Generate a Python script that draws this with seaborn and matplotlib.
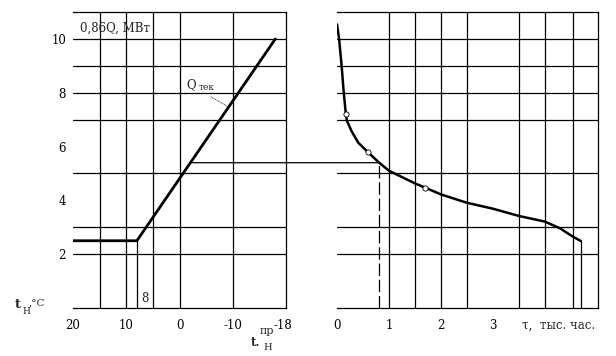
import numpy as np
import pandas as pd
import seaborn as sns
import matplotlib.pyplot as plt
import matplotlib.transforms as mtransforms
from matplotlib.patches import ConnectionPatch

sns.set_theme(style="white")
plt.rcParams['font.family'] = ['DejaVu Serif', 'Liberation Serif']

# left panel: heat load vs outdoor temperature
t_out = [20, 8, -18]
q_heat = [2.5, 2.5, 10.0]

# right panel: load duration curve (thousand hours)
tau = [0.0, 0.04, 0.09, 0.13, 0.17, 0.19, 0.28, 0.41, 0.59, 0.81, 1.0, 1.5, 1.7,
       2.0, 2.5, 3.0, 3.5, 4.0, 4.29, 4.53, 4.69]
q_tau = [10.54, 10.0, 8.97, 7.99, 7.21, 6.96, 6.57, 6.14, 5.8, 5.4, 5.1, 4.63, 4.47,
         4.22, 3.91, 3.69, 3.42, 3.21, 2.96, 2.66, 2.49]
mark_tau = [0.17, 0.59, 1.7]
mark_q = [7.21, 5.8, 4.47]

# grid positions as drawn in the source
h_grid = [2, 3, 5, 7, 8, 9, 10]
left_vgrid = [15, 10, 5, 0, -10]
right_vgrid = [1, 1.5, 2, 2.5, 3.5, 4, 4.54]
left_ticks = [20, 10, 0, -10, -18]
left_ticklabels = ["20", "10", "0", "-10", "-18"]
right_ticks = [0, 1, 2, 3]
y_ticks = [2, 4, 6, 8, 10]

# projection from left to right panel
proj_t = -2.0
proj_q = 5.4
proj_tau = 0.81
end_tau = 4.69

fig = plt.figure(figsize=(6.16, 3.56), dpi=100)
ax1 = fig.add_axes([0.1185, 0.1348, 0.3458, 0.8315])
ax2 = fig.add_axes([0.5471, 0.1348, 0.4237, 0.8315])

fs = 8.5
for ax in (ax1, ax2):
    ax.set_ylim(0, 11)
    for y in h_grid:
        ax.axhline(y, color="black", lw=0.9, zorder=1)
    for s in ax.spines.values():
        s.set_color("black")
        s.set_linewidth(0.9)
    ax.spines["left"].set_visible(False)
    ax.tick_params(length=0, labelsize=fs, colors="black", pad=8)

# left panel
ax1.set_xlim(20, -20)
for x in left_vgrid:
    ax1.axvline(x, color="black", lw=0.9, zorder=1)
ax1.plot([8, 8], [0, 2.5], color="black", lw=0.9, zorder=1)
sns.lineplot(x=t_out, y=q_heat, ax=ax1, color="black", lw=2.0, sort=False, zorder=3)
ax1.set_xticks(left_ticks)
ax1.set_xticklabels(left_ticklabels)
# the "-18" label sits a bit to the right of its tick in the source
last = ax1.get_xticklabels()[-1]
last.set_transform(last.get_transform() + mtransforms.ScaledTranslation(8 / 100, 0, fig.dpi_scale_trans))
ax1.set_yticks(y_ticks)
ax1.tick_params(axis="y", pad=5)
ax1.text(18.7, 10.4, "0,86Q, МВт", fontsize=fs, va="center", ha="left")
ax1.text(7.1, 0.35, "8", fontsize=fs, va="center", ha="left")
ax1.text(-1.3, 8.3, "Q", fontsize=fs, va="center", ha="left")
ax1.text(-3.5, 8.2, "тек", fontsize=6.5, va="center", ha="left")
ax1.plot([-5.9, -9.1], [7.85, 7.48], color="black", lw=0.6, ls=(0, (1, 1)))

# right panel
ax2.set_xlim(0, 5.02)
for x in right_vgrid:
    ax2.axvline(x, color="black", lw=0.9, zorder=1)
ax2.plot([end_tau, end_tau], [0, q_tau[-1]], color="black", lw=0.9, zorder=1)
sns.lineplot(x=tau, y=q_tau, ax=ax2, color="black", lw=1.8, sort=False, zorder=3)
ax2.scatter(mark_tau, mark_q, s=14, facecolor="white", edgecolor="black", linewidth=0.6, zorder=4)
ax2.plot([proj_tau, proj_tau], [0, proj_q], color="black", lw=0.9, ls=(0, (10, 3)), zorder=2)
ax2.set_xticks(right_ticks)
ax2.set_yticks([])

con = ConnectionPatch(xyA=(proj_t, proj_q), coordsA=ax1.transData,
                      xyB=(proj_tau, proj_q), coordsB=ax2.transData,
                      color="black", lw=0.9)
fig.add_artist(con)

# axis captions
fig.text(15 / 616, 1 - 305 / 356, "t", fontsize=9.5, fontweight="bold", va="center")
fig.text(22.5 / 616, 1 - 311 / 356, "Н", fontsize=6.5, va="center")
fig.text(29 / 616, 1 - 303 / 356, ",°С", fontsize=7.5, va="center")
fig.text(251 / 616, 1 - 343 / 356, "t.", fontsize=8.5, fontweight="bold", va="center")
fig.text(260 / 616, 1 - 331 / 356, "пр", fontsize=8, va="center")
fig.text(263 / 616, 1 - 347 / 356, "Н", fontsize=7, va="center")
fig.text(522 / 616, 1 - 325 / 356, "τ,  тыс. час.", fontsize=fs, va="center")

fig.savefig("out.png", dpi=100, facecolor="white")
